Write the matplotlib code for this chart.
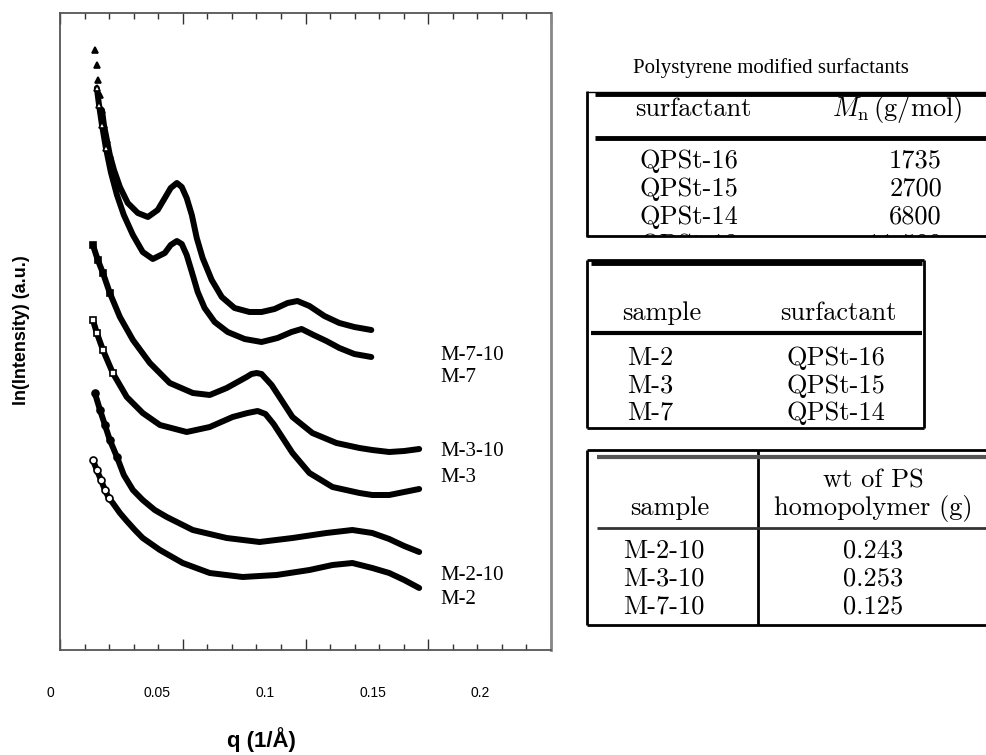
import numpy as np
import matplotlib
matplotlib.use('Agg')
import matplotlib.pyplot as plt
from matplotlib.ticker import MultipleLocator

plt.rcParams['mathtext.fontset'] = 'cm'

W, H = 987, 755

# SAXS curves, q in 1/A, ln(I) in arbitrary units (offset curves)
q_m7_10 = [0.0142, 0.0150, 0.0154, 0.0163, 0.0171, 0.0179, 0.0191, 0.0203, 0.0220, 0.0244,
           0.0276, 0.0317, 0.0358, 0.0398, 0.0427, 0.0451, 0.0476, 0.0496, 0.0516, 0.0537,
           0.0557, 0.0581, 0.0618, 0.0659, 0.0711, 0.0772, 0.0821, 0.0874, 0.0927, 0.0967,
           0.1016, 0.1077, 0.1138, 0.1199, 0.1268]
ln_m7_10 = [6.00, 5.85, 5.70, 5.55, 5.40, 5.25, 5.10, 4.95, 4.80, 4.63,
            4.47, 4.37, 4.33, 4.40, 4.52, 4.62, 4.67, 4.63, 4.52, 4.35,
            4.12, 3.92, 3.70, 3.53, 3.42, 3.38, 3.38, 3.41, 3.47, 3.49,
            3.44, 3.34, 3.27, 3.23, 3.20]

q_m7 = [0.0150, 0.0159, 0.0171, 0.0187, 0.0207, 0.0232, 0.0260, 0.0297, 0.0337, 0.0378,
        0.0427, 0.0451, 0.0476, 0.0496, 0.0516, 0.0537, 0.0561, 0.0589, 0.0630, 0.0683,
        0.0752, 0.0821, 0.0886, 0.0943, 0.0984, 0.1033, 0.1085, 0.1138, 0.1199, 0.1268]
ln_m7 = [5.62, 5.45, 5.25, 5.02, 4.78, 4.55, 4.35, 4.15, 3.98, 3.91,
         3.97, 4.05, 4.09, 4.06, 3.95, 3.78, 3.58, 3.42, 3.28, 3.18,
         3.11, 3.08, 3.12, 3.18, 3.21, 3.15, 3.09, 3.02, 2.96, 2.93]

q_m3_10 = [0.0134, 0.0154, 0.0175, 0.0203, 0.0244, 0.0297, 0.0366, 0.0447, 0.0541, 0.0610,
           0.0679, 0.0760, 0.0780, 0.0801, 0.0821, 0.0862, 0.0894, 0.0947, 0.1028, 0.1126,
           0.1220, 0.1272, 0.1341, 0.1402, 0.1463]
ln_m3_10 = [4.05, 3.90, 3.77, 3.57, 3.33, 3.10, 2.87, 2.67, 2.57, 2.55,
            2.62, 2.73, 2.76, 2.77, 2.76, 2.65, 2.53, 2.33, 2.17, 2.07,
            2.02, 2.00, 1.98, 1.99, 2.01]

q_m3 = [0.0134, 0.0150, 0.0175, 0.0215, 0.0272, 0.0337, 0.0407, 0.0516, 0.0610, 0.0703,
        0.0764, 0.0805, 0.0837, 0.0870, 0.0947, 0.1016, 0.1110, 0.1220, 0.1272, 0.1341,
        0.1402, 0.1463]
ln_m3 = [3.30, 3.17, 3.00, 2.77, 2.53, 2.37, 2.25, 2.18, 2.23, 2.33,
         2.37, 2.39, 2.36, 2.26, 1.97, 1.77, 1.63, 1.57, 1.55, 1.55,
         1.58, 1.61]

q_m2_10 = [0.0142, 0.0163, 0.0183, 0.0203, 0.0232, 0.0260, 0.0297, 0.0337, 0.0386, 0.0435,
           0.0541, 0.0679, 0.0813, 0.0947, 0.1085, 0.1191, 0.1272, 0.1341, 0.1402, 0.1463]
ln_m2_10 = [2.57, 2.40, 2.25, 2.10, 1.93, 1.75, 1.60, 1.50, 1.40, 1.33,
            1.20, 1.12, 1.08, 1.12, 1.17, 1.20, 1.17, 1.11, 1.04, 0.98]

q_m2 = [0.0134, 0.0150, 0.0167, 0.0183, 0.0199, 0.0215, 0.0244, 0.0272, 0.0305, 0.0337,
        0.0407, 0.0500, 0.0610, 0.0744, 0.0882, 0.1016, 0.1110, 0.1191, 0.1272, 0.1341,
        0.1402, 0.1463]
ln_m2 = [1.90, 1.80, 1.70, 1.60, 1.52, 1.47, 1.37, 1.29, 1.20, 1.12,
         1.00, 0.87, 0.77, 0.73, 0.75, 0.80, 0.85, 0.87, 0.82, 0.77,
         0.70, 0.62]

series = [(q_m7_10, ln_m7_10), (q_m7, ln_m7), (q_m3_10, ln_m3_10),
          (q_m3, ln_m3), (q_m2_10, ln_m2_10), (q_m2, ln_m2)]
# marker, filled, index where the solid trace begins, markers drawn on the first points
styles = [('^', True, 4, 8), ('^', False, 0, 4), ('s', True, 0, 4),
          ('s', False, 0, 4), ('o', True, 0, 5), ('o', False, 0, 5)]

curve_labels = ['M-7-10', 'M-7', 'M-3-10', 'M-3', 'M-2-10', 'M-2']
tick_vals = [0, 0.05, 0.1, 0.15, 0.2]
tick_labels = ['0', '0.05', '0.1', '0.15', '0.2']

# tables
title1 = 'Polystyrene modified surfactants'
surfactants = ['QPSt-16', 'QPSt-15', 'QPSt-14', 'QPSt-13']
mn_values = ['1735', '2700', '6800', '11 500']
samples = ['M-2', 'M-3', 'M-7']
sample_surf = ['QPSt-16', 'QPSt-15', 'QPSt-14']
blend_samples = ['M-2-10', 'M-3-10', 'M-7-10']
ps_weights = ['0.243', '0.253', '0.125']


def px_ax(x0, y0, x1, y1):
    # axes whose data coords are figure pixels (y downwards)
    a = fig.add_axes([x0 / W, 1 - y1 / H, (x1 - x0) / W, (y1 - y0) / H])
    a.set_xlim(x0, x1)
    a.set_ylim(y1, y0)
    a.axis('off')
    return a


def hline(a, x0, x1, y, lw, color='black'):
    a.plot([x0, x1], [y, y], color=color, lw=lw, solid_capstyle='butt', clip_on=False)


def vline(a, x, y0, y1, lw, color='black'):
    a.plot([x, x], [y0, y1], color=color, lw=lw, solid_capstyle='butt', clip_on=False)


fig = plt.figure(figsize=(W / 100, H / 100), dpi=100)

ax = fig.add_axes([60 / W, 1 - 650 / H, (551 - 60) / W, (650 - 13) / H])
ax.set_xlim(0, 0.2)
ax.set_ylim(0, 6.37)
for (q, y), (m, filled, k, n) in zip(series, styles):
    ax.plot(q[k:], y[k:], '-', color='black', lw=4.3,
            solid_capstyle='round', solid_joinstyle='round')
    ax.plot(q[:n], y[:n], ls='none', marker=m, ms=5, mew=1.2,
            mec='black', mfc='black' if filled else 'white')

ax.xaxis.set_major_locator(MultipleLocator(0.05))
ax.xaxis.set_minor_locator(MultipleLocator(0.01))
ax.tick_params(axis='x', which='both', direction='in', top=True, bottom=True,
               labelbottom=False, width=1, color='#333333')
ax.tick_params(axis='x', which='major', length=8)
ax.tick_params(axis='x', which='minor', length=4)
ax.set_yticks([])
for s in ax.spines.values():
    s.set_color('#555555')
    s.set_linewidth(1.3)
ax.spines['right'].set_linewidth(2)
ax.spines['right'].set_color('#888888')

# scanned tick labels do not line up with the frame
lab = fig.add_axes([50 / W, 1 - 686 / H, 430 / W, 1 / H])
lab.set_xlim(0, 0.2)
lab.set_xticks(tick_vals)
lab.set_xticklabels(tick_labels, family='Liberation Sans', fontsize=10)
lab.tick_params(axis='x', length=0, pad=0)
lab.set_yticks([])
for s in lab.spines.values():
    s.set_visible(False)
lab.patch.set_visible(False)

fig.text(261 / W, 1 - 740 / H, 'q (1/Å)', ha='center', va='center',
         fontsize=16, fontweight='bold', family='Liberation Sans')
fig.text(22 / W, 1 - 330 / H, 'ln(Intensity) (a.u.)', ha='center', va='center',
         rotation=90, fontsize=13, fontweight='bold', family='Liberation Sans')

ov = px_ax(0, 0, W, H)
lab_y = [355, 378, 452, 478, 575, 600]
for name, yy in zip(curve_labels, lab_y):
    ov.text(440, yy, name, ha='left', va='center', fontsize=15, family='Liberation Serif')

tfont = dict(family='cmr10', fontsize=19)

# table 1 (cut off at the bottom)
ov.text(633, 73, title1, ha='left', va='baseline', fontsize=15, family='Liberation Serif')
t1 = px_ax(586, 90, 987, 237)
vline(t1, 587, 91, 237, 2)
hline(t1, 587, 987, 236, 2)
hline(t1, 587, 987, 91.5, 1)
hline(t1, 595, 987, 94, 3.5)
hline(t1, 595, 987, 138, 3.5)
t1.text(693, 116, 'surfactant', ha='center', va='baseline', **tfont)
t1.text(897, 116, r'$M_\mathrm{n}\,$(g/mol)', ha='center', va='baseline', **tfont)
for i, (s, v) in enumerate(zip(surfactants, mn_values)):
    yb = 168 + 28 * i
    t1.text(640, yb, s, ha='left', va='baseline', clip_on=True, **tfont)
    t1.text(942, yb, v, ha='right', va='baseline', clip_on=True, **tfont)

# table 2
vline(ov, 587, 260, 428, 2)
vline(ov, 924, 260, 428, 2)
hline(ov, 587, 924, 260, 2)
hline(ov, 587, 924, 428, 2)
hline(ov, 591, 922, 263, 3.5)
hline(ov, 591, 922, 333, 3)
ov.text(662, 320, 'sample', ha='center', va='baseline', **tfont)
ov.text(838, 320, 'surfactant', ha='center', va='baseline', **tfont)
for i, (s, v) in enumerate(zip(samples, sample_surf)):
    yb = 365 + 27.5 * i
    ov.text(627, yb, s, ha='left', va='baseline', **tfont)
    ov.text(786, yb, v, ha='left', va='baseline', **tfont)

# table 3
vline(ov, 587, 450, 625, 2)
vline(ov, 758, 450, 625, 2)
hline(ov, 587, 987, 450, 2)
hline(ov, 587, 987, 625, 2)
hline(ov, 597, 987, 457, 3, color='#555555')
hline(ov, 597, 987, 528, 2, color='#333333')
ov.text(670, 515, 'sample', ha='center', va='baseline', **tfont)
ov.text(873, 487, 'wt of PS', ha='center', va='baseline', **tfont)
ov.text(873, 515, 'homopolymer (g)', ha='center', va='baseline', **tfont)
for i, (s, v) in enumerate(zip(blend_samples, ps_weights)):
    yb = 557 + 28 * i
    ov.text(623, yb, s, ha='left', va='baseline', **tfont)
    ov.text(873, yb, v, ha='center', va='baseline', **tfont)

fig.savefig('out.png', dpi=100)
